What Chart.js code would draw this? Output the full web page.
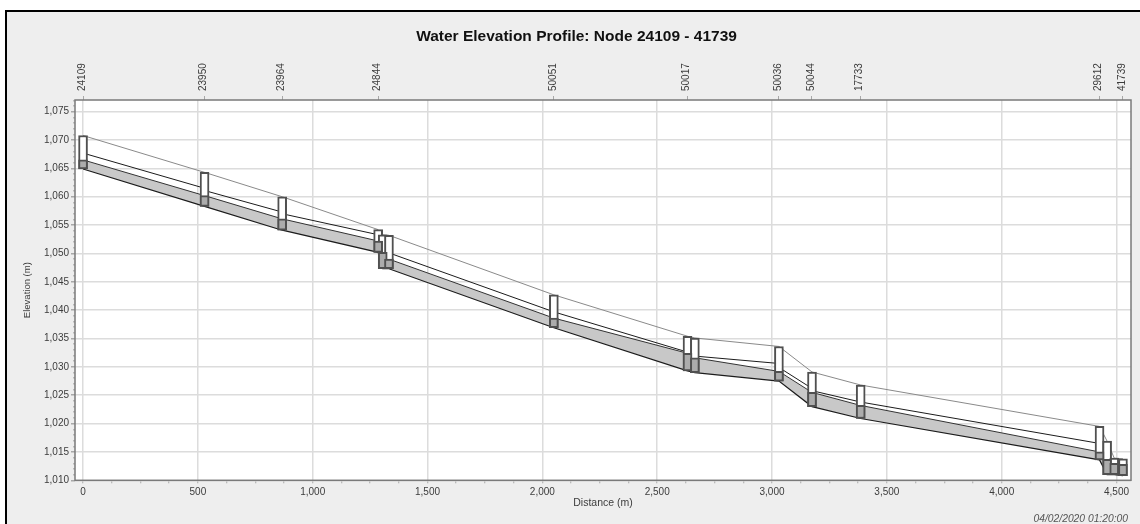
<!DOCTYPE html>
<html><head><meta charset="utf-8">
<script src="https://cdn.jsdelivr.net/npm/chart.js@4/dist/chart.umd.min.js"></script>
<style>
html,body{margin:0;padding:0;background:#fff;overflow:hidden}
#wrap{position:absolute;left:0;top:0;width:1140px;height:524px}
#panel{position:absolute;left:5px;top:10px;width:1135px;height:514px;background:#eeeeee;border-left:2px solid #000;border-top:2px solid #000;box-sizing:border-box}
canvas{position:absolute;left:0;top:0;filter:blur(0.35px)}
</style></head><body>
<div id="wrap"><div id="panel"></div><canvas id="c" width="1140" height="524"></canvas></div>
<script>
const titleText = 'Water Elevation Profile: Node 24109 - 41739';
const timestamp = '04/02/2020 01:20:00';
// nodes
const nodeX     = [0, 529, 867, 1285, 1305, 1332, 2050, 2632, 2664, 3030, 3174, 3386, 4426, 4459, 4490, 4528];
const nodeTop   = [1070.8, 1064.3, 1060.0, 1054.2, 1053.3, 1053.2, 1042.7, 1035.4, 1035.1, 1033.6, 1029.1, 1026.8, 1019.5, 1016.9, 1013.9, 1013.8];
const nodeWater = [1066.5, 1060.2, 1056.1, 1052.2, 1050.2, 1049.0, 1038.6, 1032.4, 1031.6, 1029.2, 1025.5, 1023.2, 1015.0, 1013.7, 1013.0, 1012.8];
const nodeInv   = [1064.9, 1058.3, 1054.1, 1050.2, 1047.3, 1047.3, 1036.9, 1029.3, 1029.0, 1027.5, 1023.0, 1020.9, 1013.6, 1011.0, 1011.0, 1010.8];
// labelled nodes (top axis)
const labelX = [0, 529, 867, 1285, 2050, 2632, 3030, 3174, 3386, 4426, 4528];
const labelId = ['24109','23950','23964','24844','50051','50017','50036','50044','17733','29612','41739'];
// conduit crown line (distance, elevation), steps at nodes
const crownX = [0, 529, 529, 867, 867, 1285, 1332, 2050, 2632, 2664, 3030, 3030, 3174, 3174, 3386, 4426, 4459];
const crownY = [1067.7, 1061.5, 1061.1, 1057.3, 1057.0, 1053.3, 1050.1, 1039.7, 1032.6, 1031.9, 1030.6, 1029.9, 1026.2, 1025.8, 1023.8, 1016.5, 1015.5];
// axis ticks
const xMajor = [0,500,1000,1500,2000,2500,3000,3500,4000,4500];
const xMinorStep = 125;
const yMajor = [1010,1015,1020,1025,1030,1035,1040,1045,1050,1055,1060,1065,1070,1075];

const fmt = v => v.toLocaleString('en-US');
const pts = (xs, ys) => xs.map((x,i)=>({x, y:ys[i]}));
const xTicks = []; for (let v=0;v<=4500;v+=xMinorStep) xTicks.push(v);
const yTicks = []; for (let v=1010;v<=1077;v+=1) yTicks.push(v);
const GRID='#dcdcdc', AX='#7a7a7a', TICK='#a8a8a8', TXT='#3c3c3c';
const FF='"Liberation Sans"';

const framePlugin = { id:'extra',
  beforeDraw(ch){
    const g=ch.ctx, a=ch.chartArea; g.save();
    g.fillStyle='#fff'; g.fillRect(a.left,a.top,a.right-a.left,a.bottom-a.top); g.restore();
  },
  afterDraw(ch){
    const g=ch.ctx, a=ch.chartArea; g.save();
    g.fillStyle='#555'; g.font='italic 10.3px '+FF; g.textAlign='right'; g.textBaseline='middle';
    g.fillText(timestamp,1128,519);
    g.strokeStyle=AX; g.lineWidth=1.5; g.strokeRect(a.left,a.top,a.right-a.left,a.bottom-a.top);
    g.restore();
  }};

new Chart(document.getElementById('c'),{
  data:{datasets:[
    {type:'bar',label:'Water in node',data:nodeX.map((x,i)=>({x,y:[nodeInv[i],nodeWater[i]]})),backgroundColor:'#acacac',borderColor:'#505050',borderWidth:2,borderSkipped:false,barThickness:9,grouped:false,order:1},
    {type:'bar',label:'Node',data:nodeX.map((x,i)=>({x,y:[nodeInv[i],nodeTop[i]]})),backgroundColor:'#ffffff',borderColor:'#505050',borderWidth:2,borderSkipped:false,barThickness:9,grouped:false,order:2},
    {type:'line',label:'Ground',data:pts(nodeX,nodeTop),borderColor:'#8a8a8a',borderWidth:1,pointRadius:0,tension:0,order:3},
    {type:'line',label:'Crown',data:pts(crownX,crownY),borderColor:'#1c1c1c',borderWidth:1,pointRadius:0,tension:0,order:3},
    {type:'line',label:'Water',data:pts(nodeX,nodeWater),borderColor:'#333',borderWidth:1,pointRadius:0,tension:0,fill:{target:5,above:'#c8c8c8',below:'#c8c8c8'},order:4},
    {type:'line',label:'Invert',data:pts(nodeX,nodeInv),borderColor:'#1c1c1c',borderWidth:1.2,pointRadius:0,tension:0,order:3}
  ]},
  options:{
    responsive:false,animation:false,
    layout:{padding:{left:22,right:9,top:0,bottom:0}},
    plugins:{legend:{display:false},tooltip:{enabled:false},
      title:{display:true,text:titleText,color:'#111',font:{family:FF,size:15.5,weight:'bold',lineHeight:1.2},padding:{top:27,bottom:10}}},
    scales:{
      x:{type:'linear',position:'bottom',min:-35,max:4563,offset:false,
        afterBuildTicks:s=>{s.ticks=xTicks.map(value=>({value}))},
        afterFit:s=>{s.height=43.7},
        grid:{offset:false,color:c=>xMajor.includes(c.tick&&c.tick.value)?GRID:'rgba(0,0,0,0)',lineWidth:1.5,tickColor:TICK,tickLength:3,tickWidth:1},
        border:{display:false},
        ticks:{autoSkip:false,maxRotation:0,color:TXT,padding:3,font:{family:FF,size:10},callback:v=>xMajor.includes(v)?fmt(v):''},
        title:{display:true,text:'Distance (m)',color:TXT,font:{family:FF,size:10.5},padding:{top:2,bottom:15}}},
      x2:{type:'linear',position:'top',min:-35,max:4563,offset:false,
        afterBuildTicks:s=>{s.ticks=labelX.map(value=>({value}))},
        afterFit:s=>{s.height=44.4},
        grid:{offset:false,display:true,drawOnChartArea:false,tickColor:TICK,tickLength:4},
        border:{display:false},
        ticks:{autoSkip:false,minRotation:90,maxRotation:90,labelOffset:11,color:TXT,padding:5,font:{family:FF,size:10},callback:v=>labelId[labelX.indexOf(v)]}},
      y:{type:'linear',position:'left',min:1010,max:1077.06,
        afterBuildTicks:s=>{s.ticks=yTicks.map(value=>({value}))},
        afterFit:s=>{s.width=53},
        grid:{color:c=>yMajor.includes(c.tick&&c.tick.value)?GRID:'rgba(0,0,0,0)',lineWidth:1.5,
          tickColor:c=>yMajor.includes(c.tick&&c.tick.value)?TICK:'#bcbcbc',
          tickBorderDash:c=>yMajor.includes(c.tick&&c.tick.value)?[]:[0,2,2,10],tickLength:4},
        border:{display:false},
        ticks:{autoSkip:false,color:TXT,padding:2,font:{family:FF,size:10},callback:v=>yMajor.includes(v)?fmt(v):''},
        title:{display:true,text:'Elevation (m)',color:TXT,font:{family:FF,size:9.5},padding:{top:0,bottom:6}}}
    }
  },
  plugins:[framePlugin]
});
</script></body></html>
